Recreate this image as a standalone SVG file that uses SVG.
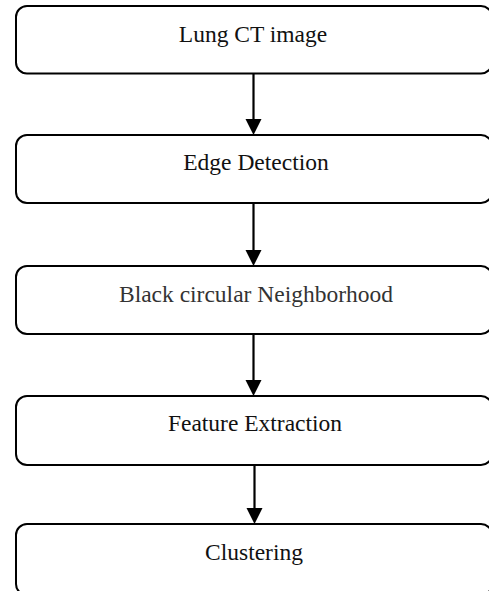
<svg xmlns="http://www.w3.org/2000/svg" width="489" height="591" viewBox="0 0 489 591">
  <style>
    .box { fill: #ffffff; stroke: #000000; stroke-width: 2; }
    .label { font-family: "Liberation Serif", "Times New Roman", serif; font-size: 23.5px; text-anchor: middle; fill: #111111; }
    .link { stroke: #000000; stroke-width: 2.2; fill: none; }
    .head { fill: #000000; }
  </style>
  <rect width="489" height="591" fill="#ffffff"/>

  <g id="connectors">
    <line class="link" x1="253.5" y1="74" x2="253.5" y2="121"/>
    <polygon class="head" points="245.5,119 261.5,119 253.5,135"/>
    <line class="link" x1="253.5" y1="203" x2="253.5" y2="252"/>
    <polygon class="head" points="245.5,250 261.5,250 253.5,266"/>
    <line class="link" x1="253.5" y1="334" x2="253.5" y2="382"/>
    <polygon class="head" points="245.5,380 261.5,380 253.5,396"/>
    <line class="link" x1="254.5" y1="465" x2="254.5" y2="510"/>
    <polygon class="head" points="246.5,508 262.5,508 254.5,524"/>
  </g>

  <g id="node-lung-ct">
    <rect class="box" x="16" y="6" width="476" height="67.5" rx="11"/>
    <text class="label" x="253" y="42">Lung CT image</text>
  </g>
  <g id="node-edge-detection">
    <rect class="box" x="16" y="135" width="476" height="68" rx="11"/>
    <text class="label" x="256" y="170">Edge Detection</text>
  </g>
  <g id="node-neighborhood">
    <rect class="box" x="16" y="266" width="476" height="68" rx="11"/>
    <text class="label" x="256" y="301.5" fill="#333333" style="fill:#333333">Black circular Neighborhood</text>
  </g>
  <g id="node-feature-extraction">
    <rect class="box" x="16" y="396" width="476" height="69" rx="11"/>
    <text class="label" x="255" y="431">Feature Extraction</text>
  </g>
  <g id="node-clustering">
    <rect class="box" x="16" y="524" width="476" height="71" rx="11"/>
    <text class="label" x="254" y="560">Clustering</text>
  </g>
</svg>
